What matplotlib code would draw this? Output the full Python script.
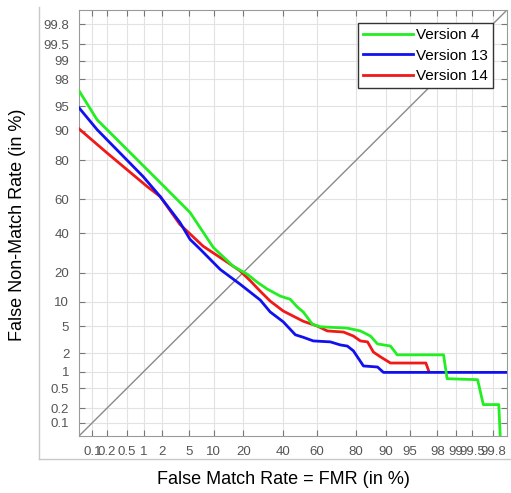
import numpy as np
import matplotlib
matplotlib.use("Agg")
import matplotlib.pyplot as plt
from matplotlib.lines import Line2D
from statistics import NormalDist

plt.rcParams['font.family'] = ['Liberation Sans', 'DejaVu Sans']

# ---- data (FMR %, FNMR %) ----
v4_fmr = [0.05, 0.126, 1.68, 5.1, 9.9, 16.1, 21.7, 26.3, 31.4, 38.6, 44.4, 48.6, 52.1,
          57.5, 62.1, 76.1, 81.7, 85.4, 87.7, 91.2, 92.7, 98.4, 98.6, 99.6, 99.69, 99.85, 99.86]
v4_fnmr = [97.0, 92.6, 70.9, 52.3, 32.0, 22.7, 19.3, 16.2, 13.8, 11.6, 10.7, 8.7, 7.6,
           5.3, 4.9, 4.7, 4.3, 3.65, 2.8, 2.6, 1.9, 1.9, 0.75, 0.72, 0.24, 0.24, 0.05]

v13_fmr = [0.05, 0.126, 0.98, 1.87, 3.7, 5.1, 6.9, 11.8, 18.8, 27.8, 33.0, 40.3, 47.4,
           52.1, 58.0, 67.6, 72.8, 76.1, 78.8, 82.9, 87.7, 89.4, 99.9]
v13_fnmr = [94.8, 90.3, 72.4, 61.7, 46.4, 36.5, 31.1, 21.3, 15.4, 10.5, 7.6, 5.7, 3.8,
            3.5, 3.1, 3.0, 2.7, 2.6, 2.2, 1.25, 1.2, 0.97, 0.97]

v14_fmr = [0.05, 0.2, 1.15, 1.87, 3.7, 7.5, 14.0, 18.8, 23.2, 27.8, 33.0, 40.3, 52.1, 60.4,
           66.0, 74.3, 78.8, 81.7, 84.4, 86.4, 88.6, 91.2, 97.0, 97.3]
v14_fnmr = [90.5, 83.0, 67.2, 61.7, 45.2, 32.7, 24.6, 20.6, 16.6, 13.1, 10.2, 7.8, 5.8, 5.0,
            4.3, 4.15, 3.65, 3.1, 3.0, 2.1, 1.76, 1.4, 1.4, 1.0]

diag = [0.05, 99.9]

tick_vals = [0.1, 0.2, 0.5, 1, 2, 5, 10, 20, 40, 60, 80, 90, 95, 98, 99, 99.5, 99.8]
tick_labels = ['0.1', '0.2', '0.5', '1', '2', '5', '10', '20', '40', '60', '80',
               '90', '95', '98', '99', '99.5', '99.8']
series_names = ['Version 4', 'Version 13', 'Version 14']
lim = (0.05, 99.9)

# ---- probit scale ----
_nd = NormalDist()
_vinv = np.vectorize(_nd.inv_cdf, otypes=[float])
_vcdf = np.vectorize(_nd.cdf, otypes=[float])
def _fwd(p):
    p = np.clip(np.asarray(p, dtype=float) / 100.0, 1e-9, 1 - 1e-9)
    return _vinv(p)
def _inv(z):
    z = np.asarray(z, dtype=float)
    return _vcdf(z) * 100.0

fig = plt.figure(figsize=(5.11, 4.93), dpi=100)
ax = fig.add_axes([79/511, 1-436/493, 428/511, 426/493])
ax.set_xscale('function', functions=(_fwd, _inv))
ax.set_yscale('function', functions=(_fwd, _inv))

ax.plot(diag, diag, color='#8a8a8a', lw=1.0, zorder=2)
ax.plot(v14_fmr, v14_fnmr, color='#f01818', lw=2.0, label=series_names[2], zorder=3)
ax.plot(v13_fmr, v13_fnmr, color='#1010f0', lw=2.0, label=series_names[1], zorder=4)
ax.plot(v4_fmr, v4_fnmr, color='#22ee22', lw=2.0, label=series_names[0], zorder=5)

ax.set_xlim(*lim)
ax.set_ylim(*lim)
ax.set_xticks(tick_vals)
ax.set_xticklabels(tick_labels)
ax.set_yticks(tick_vals)
ax.set_yticklabels(tick_labels)
ax.minorticks_off()
ax.tick_params(which='both', direction='in', top=True, right=True, length=4,
               width=0.8, color='#777777', labelcolor='#555555', labelsize=9.5)
ax.tick_params(axis='x', pad=7)
ax.tick_params(axis='y', pad=7)
ax.grid(True, color='#e2e2e2', lw=0.8, zorder=0)
ax.set_axisbelow(True)
for s in ax.spines.values():
    s.set_color('#9a9a9a')
    s.set_linewidth(0.8)

handles, labels = ax.get_legend_handles_labels()
order = [2, 1, 0]
leg = ax.legend([handles[i] for i in order], [labels[i] for i in order],
                loc='upper right', bbox_to_anchor=(0.967, 0.97), borderaxespad=0,
                fancybox=False, edgecolor='#333333', fontsize=11, handlelength=3.3,
                handletextpad=0.15, labelspacing=0.42, borderpad=0.35, framealpha=1)
leg.get_frame().set_linewidth(1.0)

fig.text(283/511, 1-480/493, 'False Match Rate = FMR (in %)', ha='center', va='center',
         fontsize=13, color='black')
fig.text(18/511, 1-225/493, 'False Non-Match Rate (in %)', ha='center', va='center',
         rotation=90, fontsize=13, color='black')

# outer light frame
fig.add_artist(Line2D([39/511, 39/511], [1-459/493, 1-7/493], transform=fig.transFigure,
                      color='#c8c8c8', lw=1))
fig.add_artist(Line2D([39/511, 1.0], [1-459/493, 1-459/493], transform=fig.transFigure,
                      color='#c8c8c8', lw=1))

fig.savefig('out.png', dpi=100)
